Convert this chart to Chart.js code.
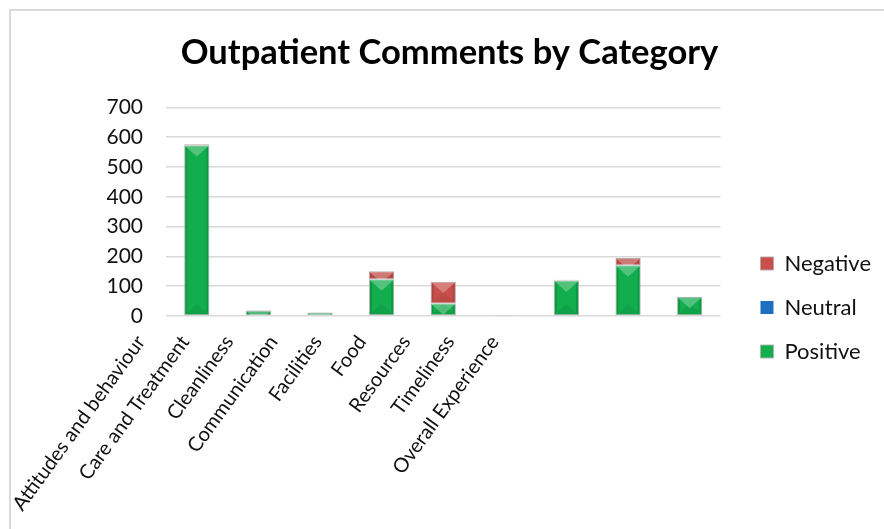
<!DOCTYPE html>
<html lang="en">
<head>
  <meta charset="UTF-8">
  <title>Outpatient Comments by Category</title>
  <script src="https://cdn.jsdelivr.net/npm/chart.js"></script>
  <style>
    body {
      margin: 0;
      background: #fff;
      font-family: Lato, "Open Sans", sans-serif;
    }
    .frame {
      position: absolute;
      left: 9px;
      top: 9px;
      width: 900px;
      height: 540px;
      border: 2px solid #d9d9d9;
    }
    .wrap {
      position: relative;
      width: 884px;
      height: 529px;
      overflow: hidden;
    }
    canvas {
      position: absolute;
      left: 0;
      top: 0;
    }
  </style>
</head>
<body>
  <div class="wrap">
    <div class="frame"></div>
    <canvas id="chart" width="884" height="529"></canvas>
  </div>

  <script>
    const categories = ['Attitudes and behaviour', 'Care and Treatment', 'Cleanliness', 'Communication',
      'Facilities', 'Food', 'Resources', 'Timeliness', 'Overall Experience'];
    const positive = [573, 18, 12, 123, 42, 0, 119, 170, 64];
    const neutral = [0, 0, 0, 0, 0, 0, 0, 0, 0];
    const negative = [3, 1, 1, 27, 73, 2, 3, 25, 1];
    const yTicks = [0, 100, 200, 300, 400, 500, 600, 700];

    const FONT = 'Lato, "Open Sans", sans-serif';

    // bevel look on every bar: light wedge on top, darker sides
    const bevel = {
      id: 'bevel',
      afterDatasetsDraw(chart) {
        const ctx = chart.ctx;
        chart.data.datasets.forEach((ds, i) => {
          const meta = chart.getDatasetMeta(i);
          if (meta.hidden) return;
          meta.data.forEach(el => {
            const p = el.getProps(['x', 'y', 'base', 'width']);
            const l = p.x - p.width / 2, r = p.x + p.width / 2;
            const t = Math.min(p.y, p.base), b = Math.max(p.y, p.base);
            if (b - t < 1) return;
            const e = Math.min(3, (b - t) / 2);
            const d = p.width * 0.45;
            ctx.save();
            ctx.beginPath();
            ctx.rect(l + 1, t + 1, p.width - 2, b - t - 1);
            ctx.clip();
            // side strips
            ctx.fillStyle = 'rgba(0,0,0,0.13)';
            ctx.beginPath();
            ctx.moveTo(l, t); ctx.lineTo(l + e, t + e); ctx.lineTo(l + e, b - e); ctx.lineTo(l, b);
            ctx.closePath(); ctx.fill();
            ctx.beginPath();
            ctx.moveTo(r, t); ctx.lineTo(r - e, t + e); ctx.lineTo(r - e, b - e); ctx.lineTo(r, b);
            ctx.closePath(); ctx.fill();
            // bottom wedge
            ctx.fillStyle = 'rgba(0,0,0,0.06)';
            ctx.beginPath();
            ctx.moveTo(l, b); ctx.lineTo(r, b); ctx.lineTo(p.x, b - d);
            ctx.closePath(); ctx.fill();
            // top wedge
            ctx.fillStyle = 'rgba(255,255,255,0.27)';
            ctx.beginPath();
            ctx.moveTo(l, t); ctx.lineTo(r, t); ctx.lineTo(p.x, t + d);
            ctx.closePath(); ctx.fill();
            ctx.restore();
          });
        });
      }
    };

    const barBorder = c => (c.raw ? 1 : 0);

    new Chart(document.getElementById('chart'), {
      type: 'bar',
      data: {
        labels: categories,
        datasets: [
          { label: 'Positive', data: positive, backgroundColor: '#12ad4d', borderColor: '#a9b8ae', borderWidth: barBorder, borderSkipped: false },
          { label: 'Neutral', data: neutral, backgroundColor: '#1f6fc1', borderColor: '#a9b0b8', borderWidth: barBorder, borderSkipped: false },
          { label: 'Negative', data: negative, backgroundColor: '#c84f4b', borderColor: '#b8a9a9', borderWidth: barBorder, borderSkipped: false }
        ]
      },
      options: {
        responsive: false,
        animation: false,
        layout: { padding: { left: 18, right: 3, top: 0, bottom: 0 } },
        datasets: { bar: { barPercentage: 0.41, categoryPercentage: 1 } },
        plugins: {
          title: {
            display: true,
            text: 'Outpatient Comments by Category',
            color: '#000',
            font: { family: FONT, size: 34.5, weight: 'bold' },
            padding: { top: 32, bottom: 34 }
          },
          legend: {
            position: 'right',
            reverse: true,
            title: { display: true, text: ' ', font: { size: 5 }, padding: { top: 80, bottom: 0 } },
            labels: {
              color: '#111',
              font: { family: FONT, size: 22 },
              boxWidth: 13,
              boxHeight: 13,
              padding: 22
            }
          },
          tooltip: { enabled: false }
        },
        scales: {
          x: { stacked: true, display: false },
          // category names, set on their own tighter axis
          lab: {
            type: 'linear',
            position: 'bottom',
            offset: false,
            bounds: 'data',
            min: -0.2,
            max: 12.345,
            grid: { display: false },
            border: { display: false },
            afterFit: s => { s.height = 213; },
            afterBuildTicks: s => { s.ticks = categories.map((c, i) => ({ value: i })); },
            ticks: {
              autoSkip: false,
              minRotation: 54,
              maxRotation: 54,
              labelOffset: -34,
              padding: 7,
              color: '#111',
              font: { family: FONT, size: 20 },
              callback: v => categories[v]
            }
          },
          y: {
            stacked: true,
            min: 0,
            max: 700,
            afterFit: s => { s.width = 148; },
            afterBuildTicks: s => { s.ticks = yTicks.map(v => ({ value: v })); },
            grid: { color: '#d9d9d9', lineWidth: 1.5, drawTicks: false },
            border: { display: false },
            ticks: {
              padding: 23,
              color: '#111',
              font: { family: FONT, size: 21 }
            }
          },
          // empty strip keeping the legend clear of the plot
          gap: {
            type: 'linear',
            position: 'right',
            grid: { display: false },
            border: { display: false },
            ticks: { display: false },
            afterFit: s => { s.width = 18; }
          }
        }
      },
      plugins: [bevel]
    });
  </script>
</body>
</html>
